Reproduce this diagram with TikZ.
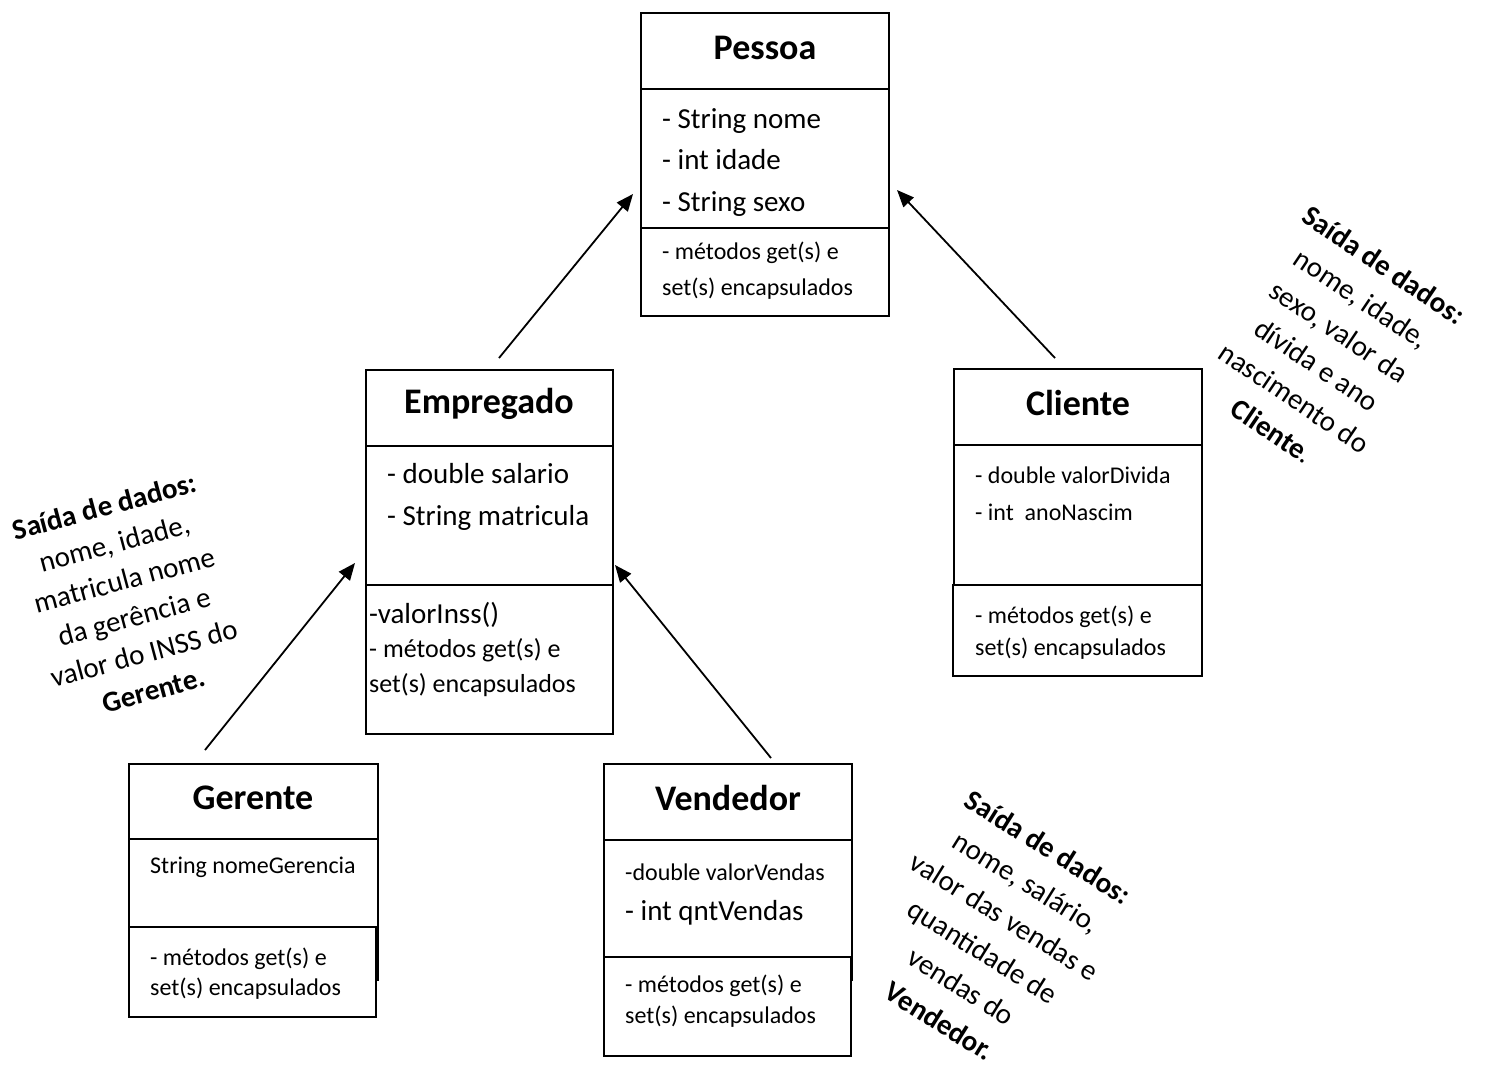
\documentclass[tikz,border=0pt]{standalone}
\usepackage{fontspec}
\setmainfont{Carlito}
\usetikzlibrary{arrows.meta}
\newcommand\fTitle{\fontsize{36}{43}\selectfont\bfseries}
\newcommand\fAttr{\fontsize{29}{35}\selectfont}
\newcommand\fMeth{\fontsize{24}{29}\selectfont}
\newcommand\fMethB{\fontsize{26}{31}\selectfont}
\begin{document}
\begin{tikzpicture}[x=1pt,y=-1pt,
  sec/.style={draw, line width=1.8pt, fill=white, inner sep=0pt, outer sep=0pt, anchor=north west},
  ttl/.style={anchor=base, font=\fTitle, inner sep=0pt},
  attr/.style={anchor=base west, font=\fAttr, inner sep=0pt},
  attrs/.style={anchor=base west, font=\fMeth, inner sep=0pt},
  meth/.style={anchor=base west, font=\fMeth, inner sep=0pt},
  inh/.style={line width=1.8pt, -{Triangle[length=17pt,width=14pt]}},
  note/.style={align=center, inner sep=0pt}
]
\fill[white] (0,0) rectangle (1485,1066);
\useasboundingbox (0,0) rectangle (1485,1066);

% ---------- Pessoa ----------
\node[sec, minimum width=248pt, minimum height=76pt] (pesT) at (641,13) {};
\node[sec, minimum width=248pt, minimum height=139pt] (pesA) at (641,89) {};
\node[sec, minimum width=248pt, minimum height=88pt] (pesM) at (641,228) {};
\node[ttl] (pesN) at (765,59) {Pessoa};
\node[attr] (pes1) at (662,128) {- String nome};
\node[attr] (pes2) at (662,169) {- int idade};
\node[attr] (pes3) at (662,211) {- String sexo};
\node[meth] (pes4) at (662,259) {- métodos get(s) e};
\node[meth] (pes5) at (662,295) {set(s) encapsulados};

% ---------- Empregado ----------
\node[sec, minimum width=247pt, minimum height=76pt] (empT) at (366,370) {};
\node[sec, minimum width=247pt, minimum height=139pt] (empA) at (366,446) {};
\node[sec, minimum width=247pt, minimum height=149pt] (empM) at (366,585) {};
\node[ttl] (empN) at (489,413) {Empregado};
\node[attr] (emp1) at (387,483) {- double salario};
\node[attr] (emp2) at (387,525) {- String matricula};
\node[attr] (emp3) at (369,623) {-valorInss()};
\node[anchor=base west, font=\fMethB, inner sep=0pt] (emp4) at (369,657) {- métodos get(s) e};
\node[anchor=base west, font=\fMethB, inner sep=0pt] (emp5) at (369,692) {set(s) encapsulados};

% ---------- Cliente ----------
\node[sec, minimum width=248pt, minimum height=76pt] (cliT) at (954,369) {};
\node[sec, minimum width=248pt, minimum height=140pt] (cliA) at (954,445) {};
\node[sec, minimum width=249pt, minimum height=91pt] (cliM) at (953,585) {};
\node[ttl] (cliN) at (1078,415) {Cliente};
\node[attrs] (cli1) at (975,483) {- double valorDivida};
\node[attrs] (cli2) at (975,520) {- int\ \ anoNascim};
\node[meth] (cli3) at (975,623) {- métodos get(s) e};
\node[meth] (cli4) at (975,655) {set(s) encapsulados};

% ---------- Gerente ----------
\node[sec, minimum width=249pt, minimum height=75pt] (gerT) at (129,764) {};
\node[sec, minimum width=249pt, minimum height=141pt] (gerA) at (129,839) {};
\node[sec, minimum width=247pt, minimum height=90pt] (gerM) at (129,927) {};
\node[ttl] (gerN) at (253,809) {Gerente};
\node[attrs] (ger1) at (150,873) {String nomeGerencia};
\node[meth] (ger2) at (150,965) {- métodos get(s) e};
\node[meth] (ger3) at (150,995) {set(s) encapsulados};

% ---------- Vendedor ----------
\node[sec, minimum width=248pt, minimum height=76pt] (venT) at (604,764) {};
\node[sec, minimum width=248pt, minimum height=140pt] (venA) at (604,840) {};
\node[sec, minimum width=247pt, minimum height=99pt] (venM) at (604,957) {};
\node[ttl] (venN) at (728,810) {Vendedor};
\node[attrs] (ven1) at (625,880) {-double valorVendas};
\node[attr] (ven2) at (625,920) {- int qntVendas};
\node[meth] (ven3) at (625,992) {- métodos get(s) e};
\node[meth] (ven4) at (625,1023) {set(s) encapsulados};

% ---------- inheritance arrows ----------
\coordinate (a1s) at (499,358);  \coordinate (a1e) at (633,194);
\coordinate (a2s) at (1055,358); \coordinate (a2e) at (897,190);
\coordinate (a3s) at (205,750);  \coordinate (a3e) at (355,563);
\coordinate (a4s) at (771,758);  \coordinate (a4e) at (615,565);
\draw[inh] (a1s) -- (a1e);
\draw[inh] (a2s) -- (a2e);
\draw[inh] (a3s) -- (a3e);
\draw[inh] (a4s) -- (a4e);

% ---------- notes ----------
\node[note, rotate=-34, font=\fontsize{29}{40}\selectfont] (noteC) at (1328,348)
  {{\bfseries Saída de dados:}\\ nome, idade,\\ sexo, valor da\\ dívida e ano\\ nascimento do\\ {\bfseries Cliente}.};
\node[note, rotate=15, font=\fontsize{29}{38}\selectfont] (noteG) at (129,598)
  {{\bfseries Saída de dados:}\\ nome, idade,\\ matricula nome\\ da gerência e\\ valor do INSS do\\ {\bfseries Gerente.}};
\node[note, rotate=-32, font=\fontsize{29}{41}\selectfont] (noteV) at (994,934)
  {{\bfseries Saída de dados:}\\ nome, salário,\\ valor das vendas e\\ quantidade de\\ vendas do\\ {\bfseries Vendedor.}};
\end{tikzpicture}
\end{document}
